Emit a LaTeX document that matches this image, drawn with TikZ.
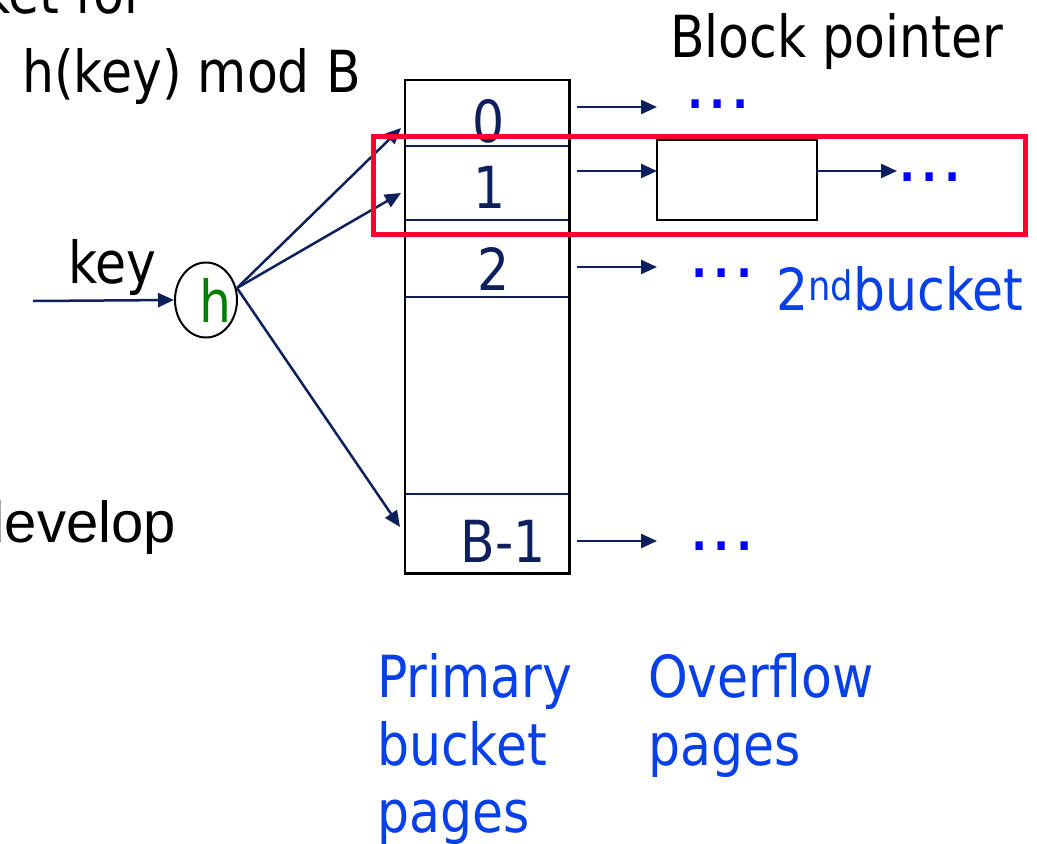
\documentclass[tikz,border=0pt]{standalone}
\usepackage{fontspec}
\setmainfont{DejaVu Sans}[FakeStretch=0.87]
\newfontfamily\arialf{Liberation Sans}
\newfontfamily\dotf{DejaVu Sans}
\usetikzlibrary{arrows.meta,shapes.geometric}
\definecolor{navy}{RGB}{14,32,92}
\definecolor{txtblue}{RGB}{8,64,232}
\definecolor{dotblue}{RGB}{0,0,255}
\definecolor{hlred}{RGB}{255,0,48}
\definecolor{hgreen}{RGB}{0,128,0}
\begin{document}
\begin{tikzpicture}[x=1pt,y=-1pt,
  txt/.style={inner sep=0pt, font=\fontsize{58}{67}\selectfont},
  bluetxt/.style={txt, text=txtblue, anchor=base west},
  num/.style={txt, text=navy, anchor=base},
  dots/.style={inner sep=0pt, text=dotblue, anchor=base, font=\dotf\fontsize{70}{72}\selectfont},
  cell/.style={inner sep=0pt, minimum width=164pt},
  divider/.style={draw=navy, line width=2.2pt},
  box/.style={draw=black, line width=2.6pt},
  arr/.style={draw=navy, line width=2.5pt, -{Triangle[length=16pt,width=14pt]}},
  hl/.style={draw=hlred, line width=5pt, inner sep=0pt}]
\useasboundingbox (0,0) rectangle (1037,844);
\clip (0,0) rectangle (1037,844);

% top-left texts
\node[txt, anchor=base east] (ketfor) at (145,13) {ket for};
\node[txt, anchor=base west] (hmod) at (22,92) {h(key) mod B};
\node[txt, anchor=base west] (blockptr) at (670,57) {Block pointer};
\node[txt, anchor=base west] (key) at (68,283) {key};
\node[txt, anchor=base east, font=\arialf\fontsize{58}{67}\selectfont] (develop) at (176,542) {develop};

% bucket column cells
\node[cell, minimum height=66pt] (c0) at (487,113) {};
\node[cell, minimum height=74pt] (c1) at (487,183) {};
\node[cell, minimum height=77pt] (c2) at (487,258.5) {};
\node[cell, minimum height=197pt] (cg) at (487,395.5) {};
\node[cell, minimum height=79pt] (cB) at (487,533.5) {};
\draw[divider] (c0.south west) -- (c0.south east);
\draw[divider] (c1.south west) -- (c1.south east);
\draw[divider] (c2.south west) -- (c2.south east);
\draw[divider] (cg.south west) -- (cg.south east);
\draw[box] (c0.north west) rectangle (cB.south east);

\node[num] (n0) at (489,142) {0};
\node[num] (n1) at (490,208) {1};
\node[num] (n2) at (494,290) {2};
\node[num] (nB) at (503,562) {B-1};

% hash function
\node[draw=black, line width=2pt, ellipse, minimum width=62pt, minimum height=75pt, inner sep=0pt] (h) at (206,300) {};
\node[txt, text=hgreen, anchor=base] (hl) at (215,322) {h};
\coordinate (kin) at (33,301);
\draw[arr] (kin) -- (h.west);
\coordinate (hout) at (237,288);
\coordinate (t0) at (401,128);
\coordinate (t1) at (401,193);
\coordinate (tB) at (400,527);
\draw[arr] (hout) -- (t0);
\draw[arr] (hout) -- (t1);
\draw[arr] (hout) -- (tB);

% overflow
\node[box, minimum width=160pt, minimum height=80pt, inner sep=0pt] (ov) at (737,180) {};
\coordinate (s0) at (577,107); \coordinate (e0) at (657,107);
\coordinate (s1) at (577,171); \coordinate (e1) at (657,171);
\coordinate (s2) at (577,267); \coordinate (e2) at (657,267);
\coordinate (sB) at (577,541); \coordinate (eB) at (657,541);
\coordinate (o1) at (817,171); \coordinate (f1) at (897,171);
\draw[arr] (s0) -- (e0);
\draw[arr] (s1) -- (e1);
\draw[arr] (s2) -- (e2);
\draw[arr] (sB) -- (eB);
\draw[arr] (o1) -- (f1);

\node[dots] (d0) at (718,108) {...};
\node[dots] (d1) at (930,181) {...};
\node[dots] (d2) at (722,277) {...};
\node[dots] (dB) at (722,550) {...};

\node[bluetxt] (snd) at (776,310) {2\textsuperscript{nd}bucket};

% red highlight
\node[hl, minimum width=652pt, minimum height=98pt] (red) at (699,185) {};

% bottom labels
\node[bluetxt] (p1) at (377,697) {Primary};
\node[bluetxt] (p2) at (377,765) {bucket};
\node[bluetxt] (p3) at (377,832) {pages};
\node[bluetxt] (o1t) at (648,697) {Overflow};
\node[bluetxt] (o2t) at (648,765) {pages};
\end{tikzpicture}
\end{document}
